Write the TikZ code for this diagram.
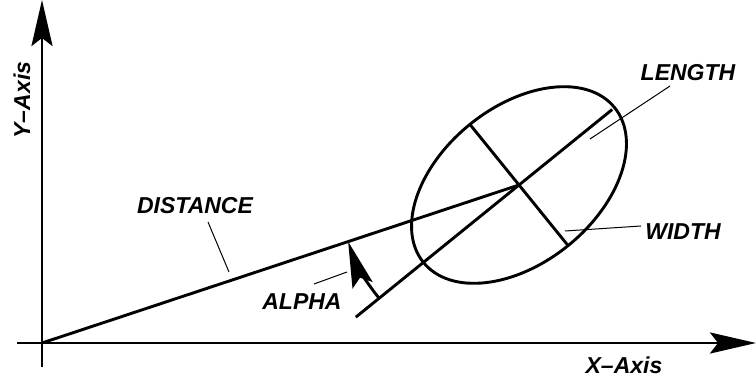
\documentclass[tikz,border=0pt]{standalone}
\usepackage{fontspec}
\setmainfont{Liberation Sans}
\usepackage{tikz}
\usetikzlibrary{arrows.meta,positioning,calc}

\begin{document}
\begin{tikzpicture}[x=1pt,y=1pt,lbl/.style={font=\fontsize{23}{26}\selectfont\bfseries\itshape,inner sep=0pt},thk/.style={line width=2.9pt},lead/.style={line width=1pt},big/.style={-{Stealth[length=46pt,width=21pt,inset=8pt]},line width=2.9pt}]
    \useasboundingbox (0,0) rectangle (756,383);
    \coordinate (o) at (42,40);
    \coordinate (c) at (519,198);
    % axes
    \coordinate (xs) at (17,40);
    \coordinate (xe) at (756,40);
    \coordinate (ys) at (42,16);
    \coordinate (ye) at (42,383);
    \draw[big] (xs)--(xe);
    \draw[big] (ys)--(ye);
    % ellipse and its axes
    \draw[thk] (c) ellipse[x radius=123,y radius=78,rotate=39];
    \draw[thk] ($(c)+(219:210)$) coordinate (ma)--($(c)+(39:120)$) coordinate (mb);
    \draw[thk] ($(c)+(129:78)$) coordinate (wa)--($(c)+(-51:78)$) coordinate (wb);
    \draw[thk] (o)--(c);
    % angle
    \draw[big] ($(c)+(219:180)$) arc[start angle=219,end angle=198.3,radius=180];
    % labels
    \node[lbl] (xl) at (624,18) {X–Axis};
    \node[lbl,rotate=90] (yl) at (22,283) {Y–Axis};
    \node[lbl] (dl) at (195,177) {DISTANCE};
    \node[lbl] (al) at (302,81) {ALPHA};
    \node[lbl] (ll) at (688,310) {LENGTH};
    \node[lbl] (wl) at (683,151) {WIDTH};
    \coordinate (d1) at (208,161);
    \coordinate (d2) at (229,111);
    \coordinate (a1) at (314,99);
    \coordinate (a2) at (347,111);
    \coordinate (l1) at (670,297);
    \coordinate (l2) at (590,244);
    \coordinate (w1) at (641,157);
    \coordinate (w2) at (565,152);
    \draw[lead] (d1)--(d2);
    \draw[lead] (a1)--(a2);
    \draw[lead] (l1)--(l2);
    \draw[lead] (w1)--(w2);
  \end{tikzpicture}
\end{document}
